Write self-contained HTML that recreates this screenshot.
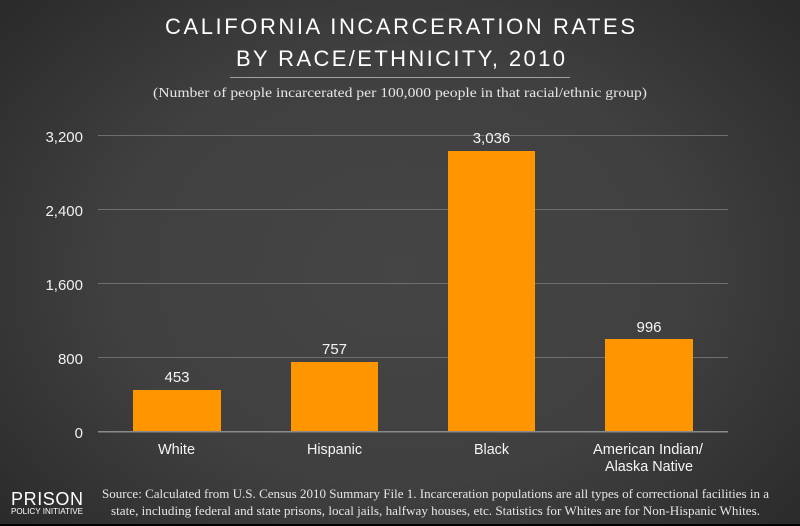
<!DOCTYPE html>
<html>
<head>
<meta charset="utf-8">
<style>
html,body{margin:0;padding:0;background:#2e2e2e;}
svg{display:block;}
</style>
</head>
<body>
<svg width="800" height="526" viewBox="0 0 800 526" xmlns="http://www.w3.org/2000/svg">
<defs>
<radialGradient id="bg" cx="400" cy="270" r="520" gradientUnits="userSpaceOnUse" gradientTransform="translate(400 270) scale(1 0.75) translate(-400 -270)">
<stop offset="0" stop-color="#454545"/>
<stop offset="0.55" stop-color="#404040"/>
<stop offset="1" stop-color="#2b2b2b"/>
</radialGradient>
</defs>
<rect x="0" y="0" width="800" height="526" fill="url(#bg)"/>
<rect x="0" y="524" width="800" height="2" fill="#000"/>

<!-- Title -->
<g font-family="'Liberation Sans', sans-serif" fill="#ffffff" font-size="22">
<text x="165" y="34" textLength="470" lengthAdjust="spacing">CALIFORNIA INCARCERATION RATES</text>
<text x="236" y="66" textLength="329" lengthAdjust="spacing">BY RACE/ETHNICITY, 2010</text>
</g>
<rect x="230" y="77" width="340" height="1" fill="#a0a0a0"/>
<text x="153" y="97" font-family="'Liberation Serif', serif" font-size="14" fill="#e6e6e6" textLength="494" lengthAdjust="spacingAndGlyphs">(Number of people incarcerated per 100,000 people in that racial/ethnic group)</text>

<!-- Gridlines -->
<g fill="#6e6e6e">
<rect x="98" y="135" width="630" height="1"/>
<rect x="98" y="209" width="630" height="1"/>
<rect x="98" y="283" width="630" height="1"/>
<rect x="98" y="357" width="630" height="1"/>
</g>

<!-- Y axis labels -->
<g font-family="'Liberation Sans', sans-serif" font-size="15" fill="#f0f0f0" text-anchor="end">
<text x="83" y="142">3,200</text>
<text x="83" y="216">2,400</text>
<text x="83" y="290">1,600</text>
<text x="83" y="364">800</text>
<text x="83" y="438">0</text>
</g>

<!-- Bars -->
<g fill="#ff9600">
<rect x="133" y="390" width="88" height="41.5"/>
<rect x="291" y="362" width="87" height="69.5"/>
<rect x="448" y="151" width="87" height="280.5"/>
<rect x="605" y="339" width="88" height="92.5"/>
</g>
<rect x="98" y="431" width="630" height="1.5" fill="#8a8a8a"/>

<!-- Value labels -->
<g font-family="'Liberation Sans', sans-serif" font-size="15" fill="#f5f5f5" text-anchor="middle">
<text x="177" y="382">453</text>
<text x="334.5" y="354">757</text>
<text x="491.5" y="143">3,036</text>
<text x="649" y="332">996</text>
</g>

<!-- Category labels -->
<g font-family="'Liberation Sans', sans-serif" font-size="15" fill="#f5f5f5">
<text x="158" y="454" textLength="37" lengthAdjust="spacingAndGlyphs">White</text>
<text x="307" y="454" textLength="55" lengthAdjust="spacingAndGlyphs">Hispanic</text>
<text x="474" y="454" textLength="35" lengthAdjust="spacingAndGlyphs">Black</text>
<text x="593" y="454" textLength="110" lengthAdjust="spacingAndGlyphs">American Indian/</text>
<text x="605" y="471" textLength="88" lengthAdjust="spacingAndGlyphs">Alaska Native</text>
</g>

<!-- Logo -->
<g font-family="'Liberation Sans', sans-serif" fill="#ffffff">
<text x="11" y="505" font-size="18" textLength="72" lengthAdjust="spacing">PRISON</text>
<text x="11" y="514" font-size="8" textLength="72" lengthAdjust="spacingAndGlyphs">POLICY INITIATIVE</text>
</g>

<!-- Source -->
<g font-family="'Liberation Serif', serif" font-size="13" fill="#e6e6e6">
<text x="102" y="498" textLength="667" lengthAdjust="spacingAndGlyphs">Source: Calculated from U.S. Census 2010 Summary File 1. Incarceration populations are all types of correctional facilities in a</text>
<text x="111" y="515" textLength="649" lengthAdjust="spacingAndGlyphs">state, including federal and state prisons, local jails, halfway houses, etc. Statistics for Whites are for Non-Hispanic Whites.</text>
</g>
</svg>
</body>
</html>
